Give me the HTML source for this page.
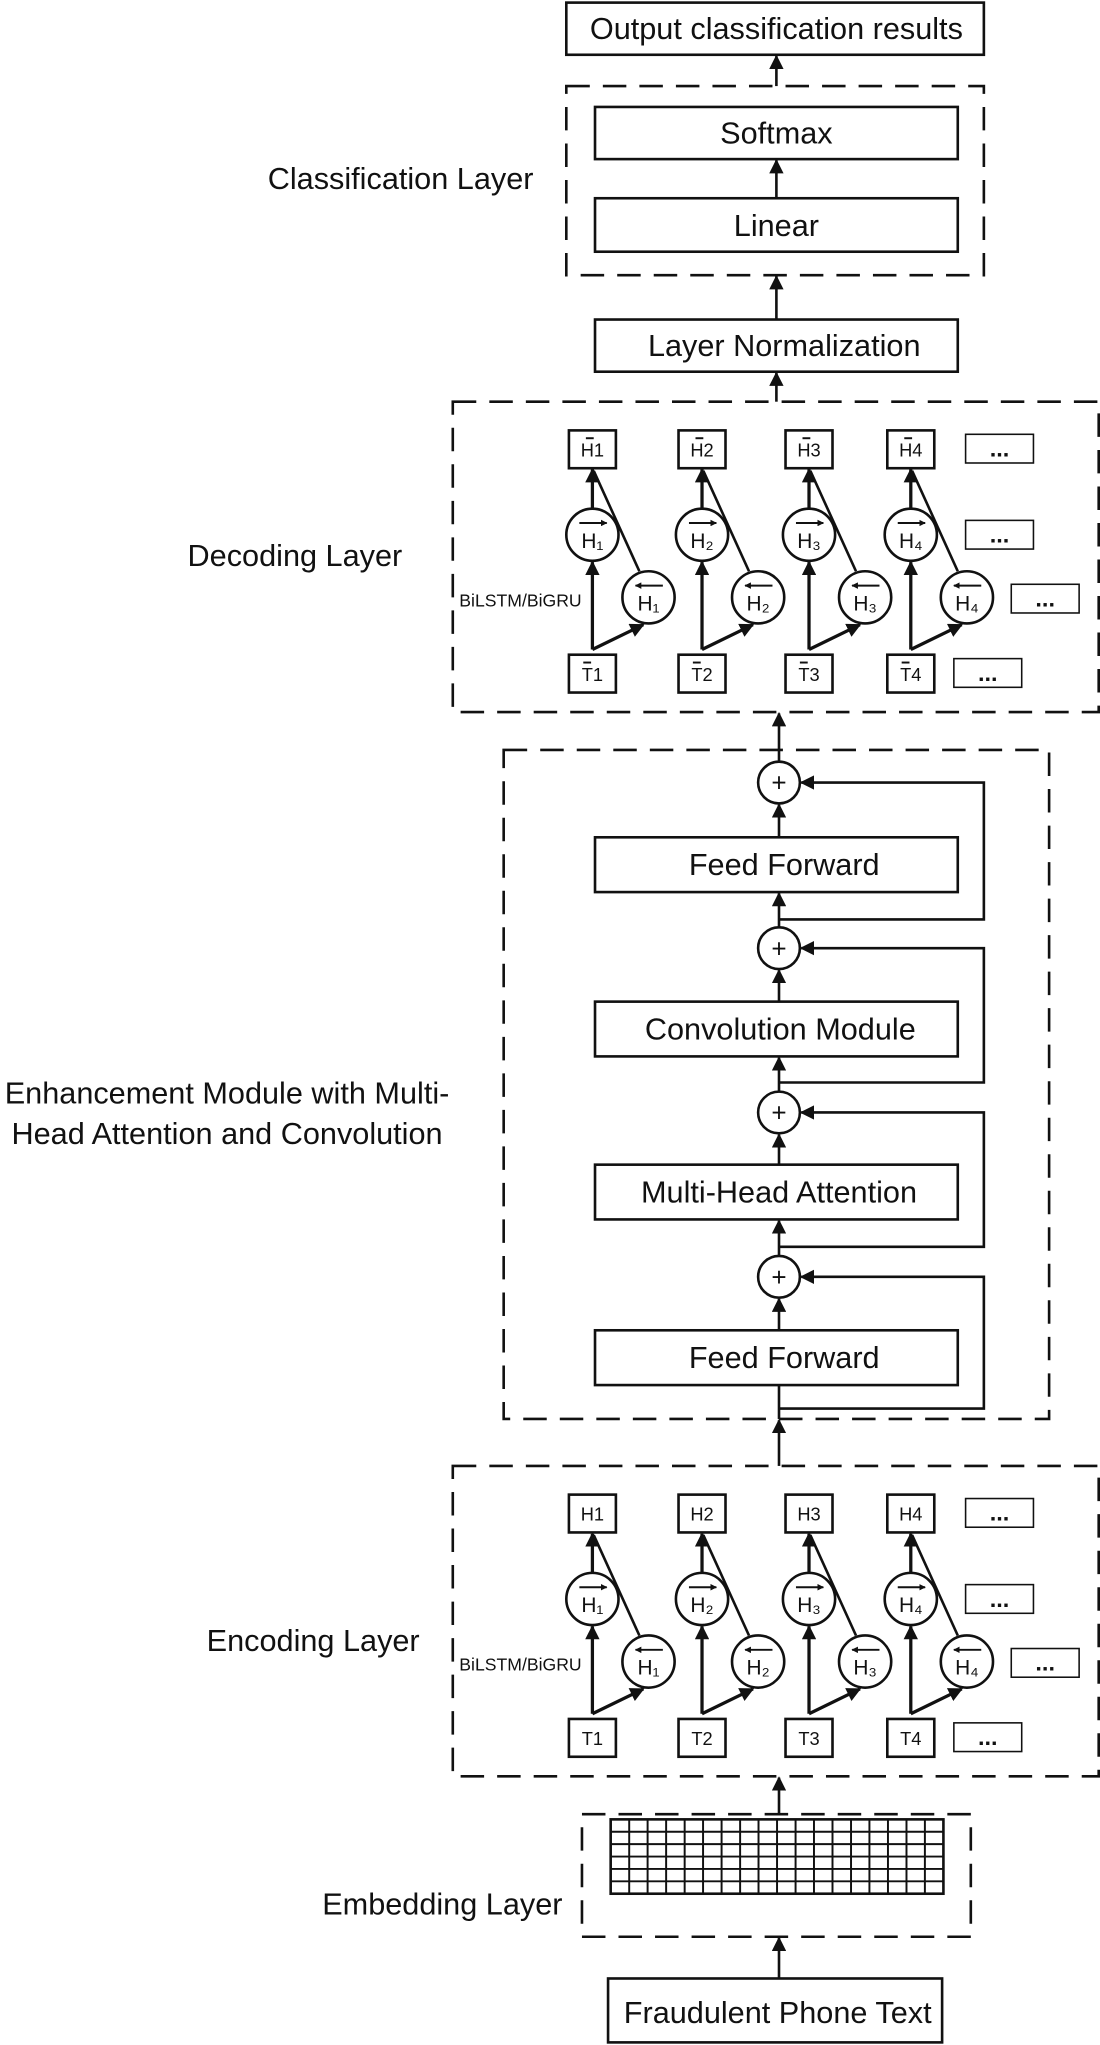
<!DOCTYPE html>
<html><head><meta charset="utf-8"><style>html,body{margin:0;padding:0;background:#fff}svg{display:block}</style></head>
<body>
<svg width="1100" height="2045" viewBox="0 0 843 1568" preserveAspectRatio="none" xmlns="http://www.w3.org/2000/svg" font-family="Liberation Sans, sans-serif">
<defs>
<marker id="a" viewBox="0 0 10 10" refX="9" refY="5" markerWidth="5" markerHeight="5" orient="auto-start-reverse" markerUnits="userSpaceOnUse"><path d="M0,0L10,5L0,10z" fill="#111"/></marker>
<marker id="b" viewBox="0 0 10 10" refX="9" refY="5" markerWidth="11" markerHeight="11" orient="auto" markerUnits="userSpaceOnUse"><path d="M0,0L10,5L0,10z" fill="#111"/></marker>
</defs>
<g fill="none" stroke="#111" stroke-width="2">
<rect x="434" y="2" width="320" height="40"/>
<rect x="456" y="82" width="278" height="40"/>
<rect x="456" y="152" width="278" height="41"/>
<rect x="456" y="245" width="278" height="40"/>
<rect x="456" y="642" width="278" height="42"/>
<rect x="456" y="768" width="278" height="42"/>
<rect x="456" y="893" width="278" height="42"/>
<rect x="456" y="1020" width="278" height="42"/>
<rect x="466" y="1517" width="256" height="49"/>
</g>
<g fill="none" stroke="#111" stroke-width="2" stroke-dasharray="18,10">
<rect x="434" y="66" width="320" height="145"/>
<rect x="347" y="308" width="495" height="238"/>
<rect x="386" y="575" width="418" height="513"/>
<rect x="347" y="1124" width="495" height="238"/>
<rect x="446" y="1391" width="298" height="94"/>
</g>
<g stroke="#111" stroke-width="2" marker-end="url(#b)">
<line x1="595" y1="152" x2="595" y2="123"/>
<line x1="595" y1="66" x2="595" y2="43"/>
<line x1="595" y1="245" x2="595" y2="212"/>
<line x1="595" y1="308" x2="595" y2="286"/>
<line x1="597" y1="584" x2="597" y2="547"/>
<line x1="597" y1="642" x2="597" y2="617"/>
<line x1="597" y1="711" x2="597" y2="685"/>
<line x1="597" y1="768" x2="597" y2="744"/>
<line x1="597" y1="837" x2="597" y2="811"/>
<line x1="597" y1="893" x2="597" y2="870"/>
<line x1="597" y1="963" x2="597" y2="936"/>
<line x1="597" y1="1020" x2="597" y2="996"/>
<line x1="597" y1="1124" x2="597" y2="1089"/>
<line x1="597" y1="1391" x2="597" y2="1363"/>
<line x1="597" y1="1517" x2="597" y2="1486"/>
<polyline fill="none" points="597,705 754,705 754,600 614,600"/>
<polyline fill="none" points="597,830 754,830 754,727 614,727"/>
<polyline fill="none" points="597,956 754,956 754,853 614,853"/>
<polyline fill="none" points="597,1080 754,1080 754,979 614,979"/>
</g>
<line x1="597" y1="1088" x2="597" y2="1062" stroke="#111" stroke-width="2"/>
<g fill="#fff" stroke="#111" stroke-width="2">
<circle cx="597" cy="600" r="16"/><circle cx="597" cy="727" r="16"/><circle cx="597" cy="853" r="16"/><circle cx="597" cy="979" r="16"/>
</g>
<g font-size="20" text-anchor="middle" fill="#111">
<text x="597" y="607">+</text><text x="597" y="734">+</text><text x="597" y="860">+</text><text x="597" y="986">+</text>
</g>
<g stroke="#111" stroke-width="1.5" fill="none">
<rect x="468" y="1395" width="255" height="57" stroke-width="2"/>
<path d="M482.2,1395V1452M496.3,1395V1452M510.5,1395V1452M524.7,1395V1452M538.8,1395V1452M553,1395V1452M567.2,1395V1452M581.3,1395V1452M595.5,1395V1452M609.7,1395V1452M623.8,1395V1452M638,1395V1452M652.2,1395V1452M666.3,1395V1452M680.5,1395V1452M694.7,1395V1452M708.8,1395V1452M468,1404.5H723M468,1414H723M468,1423.5H723M468,1433H723M468,1442.5H723"/>
</g>
<g font-size="23.5" text-anchor="middle" fill="#111">
<text x="595" y="30">Output classification results</text>
<text x="595" y="110">Softmax</text>
<text x="595" y="181">Linear</text>
<text x="601" y="273">Layer Normalization</text>
<text x="601" y="671">Feed Forward</text>
<text x="598" y="797">Convolution Module</text>
<text x="597" y="922">Multi-Head Attention</text>
<text x="601" y="1049">Feed Forward</text>
<text x="596" y="1551">Fraudulent Phone Text</text>
<text x="307" y="145">Classification Layer</text>
<text x="226" y="434">Decoding Layer</text>
<text x="174" y="846">Enhancement Module with Multi-</text>
<text x="174" y="877">Head Attention and Convolution</text>
<text x="240" y="1266">Encoding Layer</text>
<text x="339" y="1468">Embedding Layer</text>
</g>
<script>
(function(){
var ns="http://www.w3.org/2000/svg",svg=document.querySelector("svg");
function el(t,a,txt){var e=document.createElementNS(ns,t);for(var k in a)e.setAttribute(k,a[k]);if(txt!=null)e.textContent=txt;svg.appendChild(e);return e;}
var sub=["₁","₂","₃","₄"];
function layer(oy,bar){
 var xs=[454,538,620,698];
 el("text",{x:352,y:oy+465,"font-size":13.5,fill:"#111"},"BiLSTM/BiGRU");
 xs.forEach(function(x,i){
  el("rect",{x:x-18,y:oy+330,width:36,height:29,fill:"none",stroke:"#111","stroke-width":2});
  el("rect",{x:x-18,y:oy+502,width:36,height:29,fill:"none",stroke:"#111","stroke-width":2});
  el("text",{x:x,y:oy+350,"font-size":14,"text-anchor":"middle",fill:"#111"},"H"+(i+1));
  el("text",{x:x,y:oy+522,"font-size":14,"text-anchor":"middle",fill:"#111"},"T"+(i+1));
  if(bar){el("line",{x1:x-5,y1:oy+336,x2:x+1,y2:oy+336,stroke:"#111","stroke-width":1.5});
   el("line",{x1:x-7,y1:oy+508,x2:x-1,y2:oy+508,stroke:"#111","stroke-width":1.5});}
  var bx=x+43,by=oy+458,fy=oy+410;
  el("line",{x1:x,y1:oy+498,x2:x,y2:fy+21,stroke:"#111","stroke-width":2.5,"marker-end":"url(#b)"});
  el("line",{x1:x,y1:oy+498,x2:bx-4,y2:by+21,stroke:"#111","stroke-width":2.5,"marker-end":"url(#b)"});
  el("line",{x1:x,y1:fy-20,x2:x,y2:oy+360,stroke:"#111","stroke-width":2.5,"marker-end":"url(#b)"});
  el("line",{x1:bx-7,y1:by-20,x2:x+1,y2:oy+361,stroke:"#111","stroke-width":2});
  el("circle",{cx:x,cy:fy,r:20,fill:"#fff",stroke:"#111","stroke-width":2});
  el("circle",{cx:bx,cy:by,r:20,fill:"#fff",stroke:"#111","stroke-width":2});
  el("text",{x:x,y:fy+10,"font-size":16,"text-anchor":"middle",fill:"#111"},"H"+sub[i]);
  el("text",{x:bx,y:by+10,"font-size":16,"text-anchor":"middle",fill:"#111"},"H"+sub[i]);
  el("line",{x1:x-10,y1:fy-9,x2:x+11,y2:fy-9,stroke:"#111","stroke-width":1.5,"marker-end":"url(#a)"});
  el("line",{x1:bx+11,y1:by-9,x2:bx-10,y2:by-9,stroke:"#111","stroke-width":1.5,"marker-end":"url(#a)"});
 });
 [[740,333],[740,399],[775,448],[731,505]].forEach(function(p){
  el("rect",{x:p[0],y:oy+p[1],width:52,height:22,fill:"none",stroke:"#111","stroke-width":1.2});
  el("text",{x:p[0]+26,y:oy+p[1]+17,"font-size":18,"font-weight":"bold","text-anchor":"middle",fill:"#111"},"...");
 });
}
layer(0,true);layer(816,false);
})();
</script>
</svg>
</body></html>
